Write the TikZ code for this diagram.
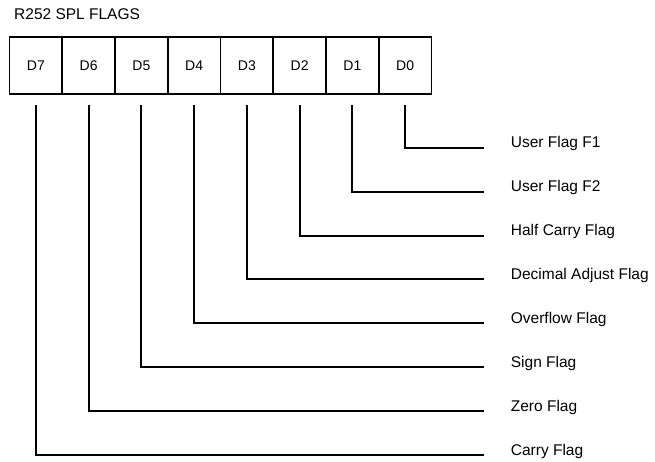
\documentclass[tikz,border=0pt]{standalone}
\usepackage{fontspec}
\setmainfont{Liberation Sans}
\begin{document}
\begin{tikzpicture}[x=1pt,y=-1pt,
  cell/.style={draw,line width=1.8pt,minimum width=52.75pt,minimum height=57pt,inner sep=0pt,text height=10pt,text depth=0pt,font=\fontsize{14}{16}\selectfont},
  flaglabel/.style={anchor=base west,inner sep=0pt,font=\fontsize{15.5}{18}\selectfont},
  conn/.style={line width=1.8pt}]
\useasboundingbox (0,0) rectangle (655,462);
\node[anchor=base west,inner sep=0pt,font=\fontsize{15.5}{18}\selectfont] (title) at (14,20) {R252 SPL FLAGS};
\foreach \i/\b in {0/7,1/6,2/5,3/4,4/3,5/2,6/1,7/0} {
  \node[cell] (d\b) at ({9.5+52.75*\i+26.375},65.5) {D\b};
}
\foreach \b/\y in {0/148,1/192,2/236,3/279,4/323,5/367,6/411,7/455} {
  \coordinate (e\b) at (484,\y);
  \node[flaglabel] (l\b) at (510,\y) {};
  \draw[conn] ([yshift=-10.5pt]d\b.south) |- (e\b);
}
\node[flaglabel] at (l0) {User Flag F1};
\node[flaglabel] at (l1) {User Flag F2};
\node[flaglabel] at (l2) {Half Carry Flag};
\node[flaglabel] at (l3) {Decimal Adjust Flag};
\node[flaglabel] at (l4) {Overflow Flag};
\node[flaglabel] at (l5) {Sign Flag};
\node[flaglabel] at (l6) {Zero Flag};
\node[flaglabel] at (l7) {Carry Flag};
\end{tikzpicture}
\end{document}
